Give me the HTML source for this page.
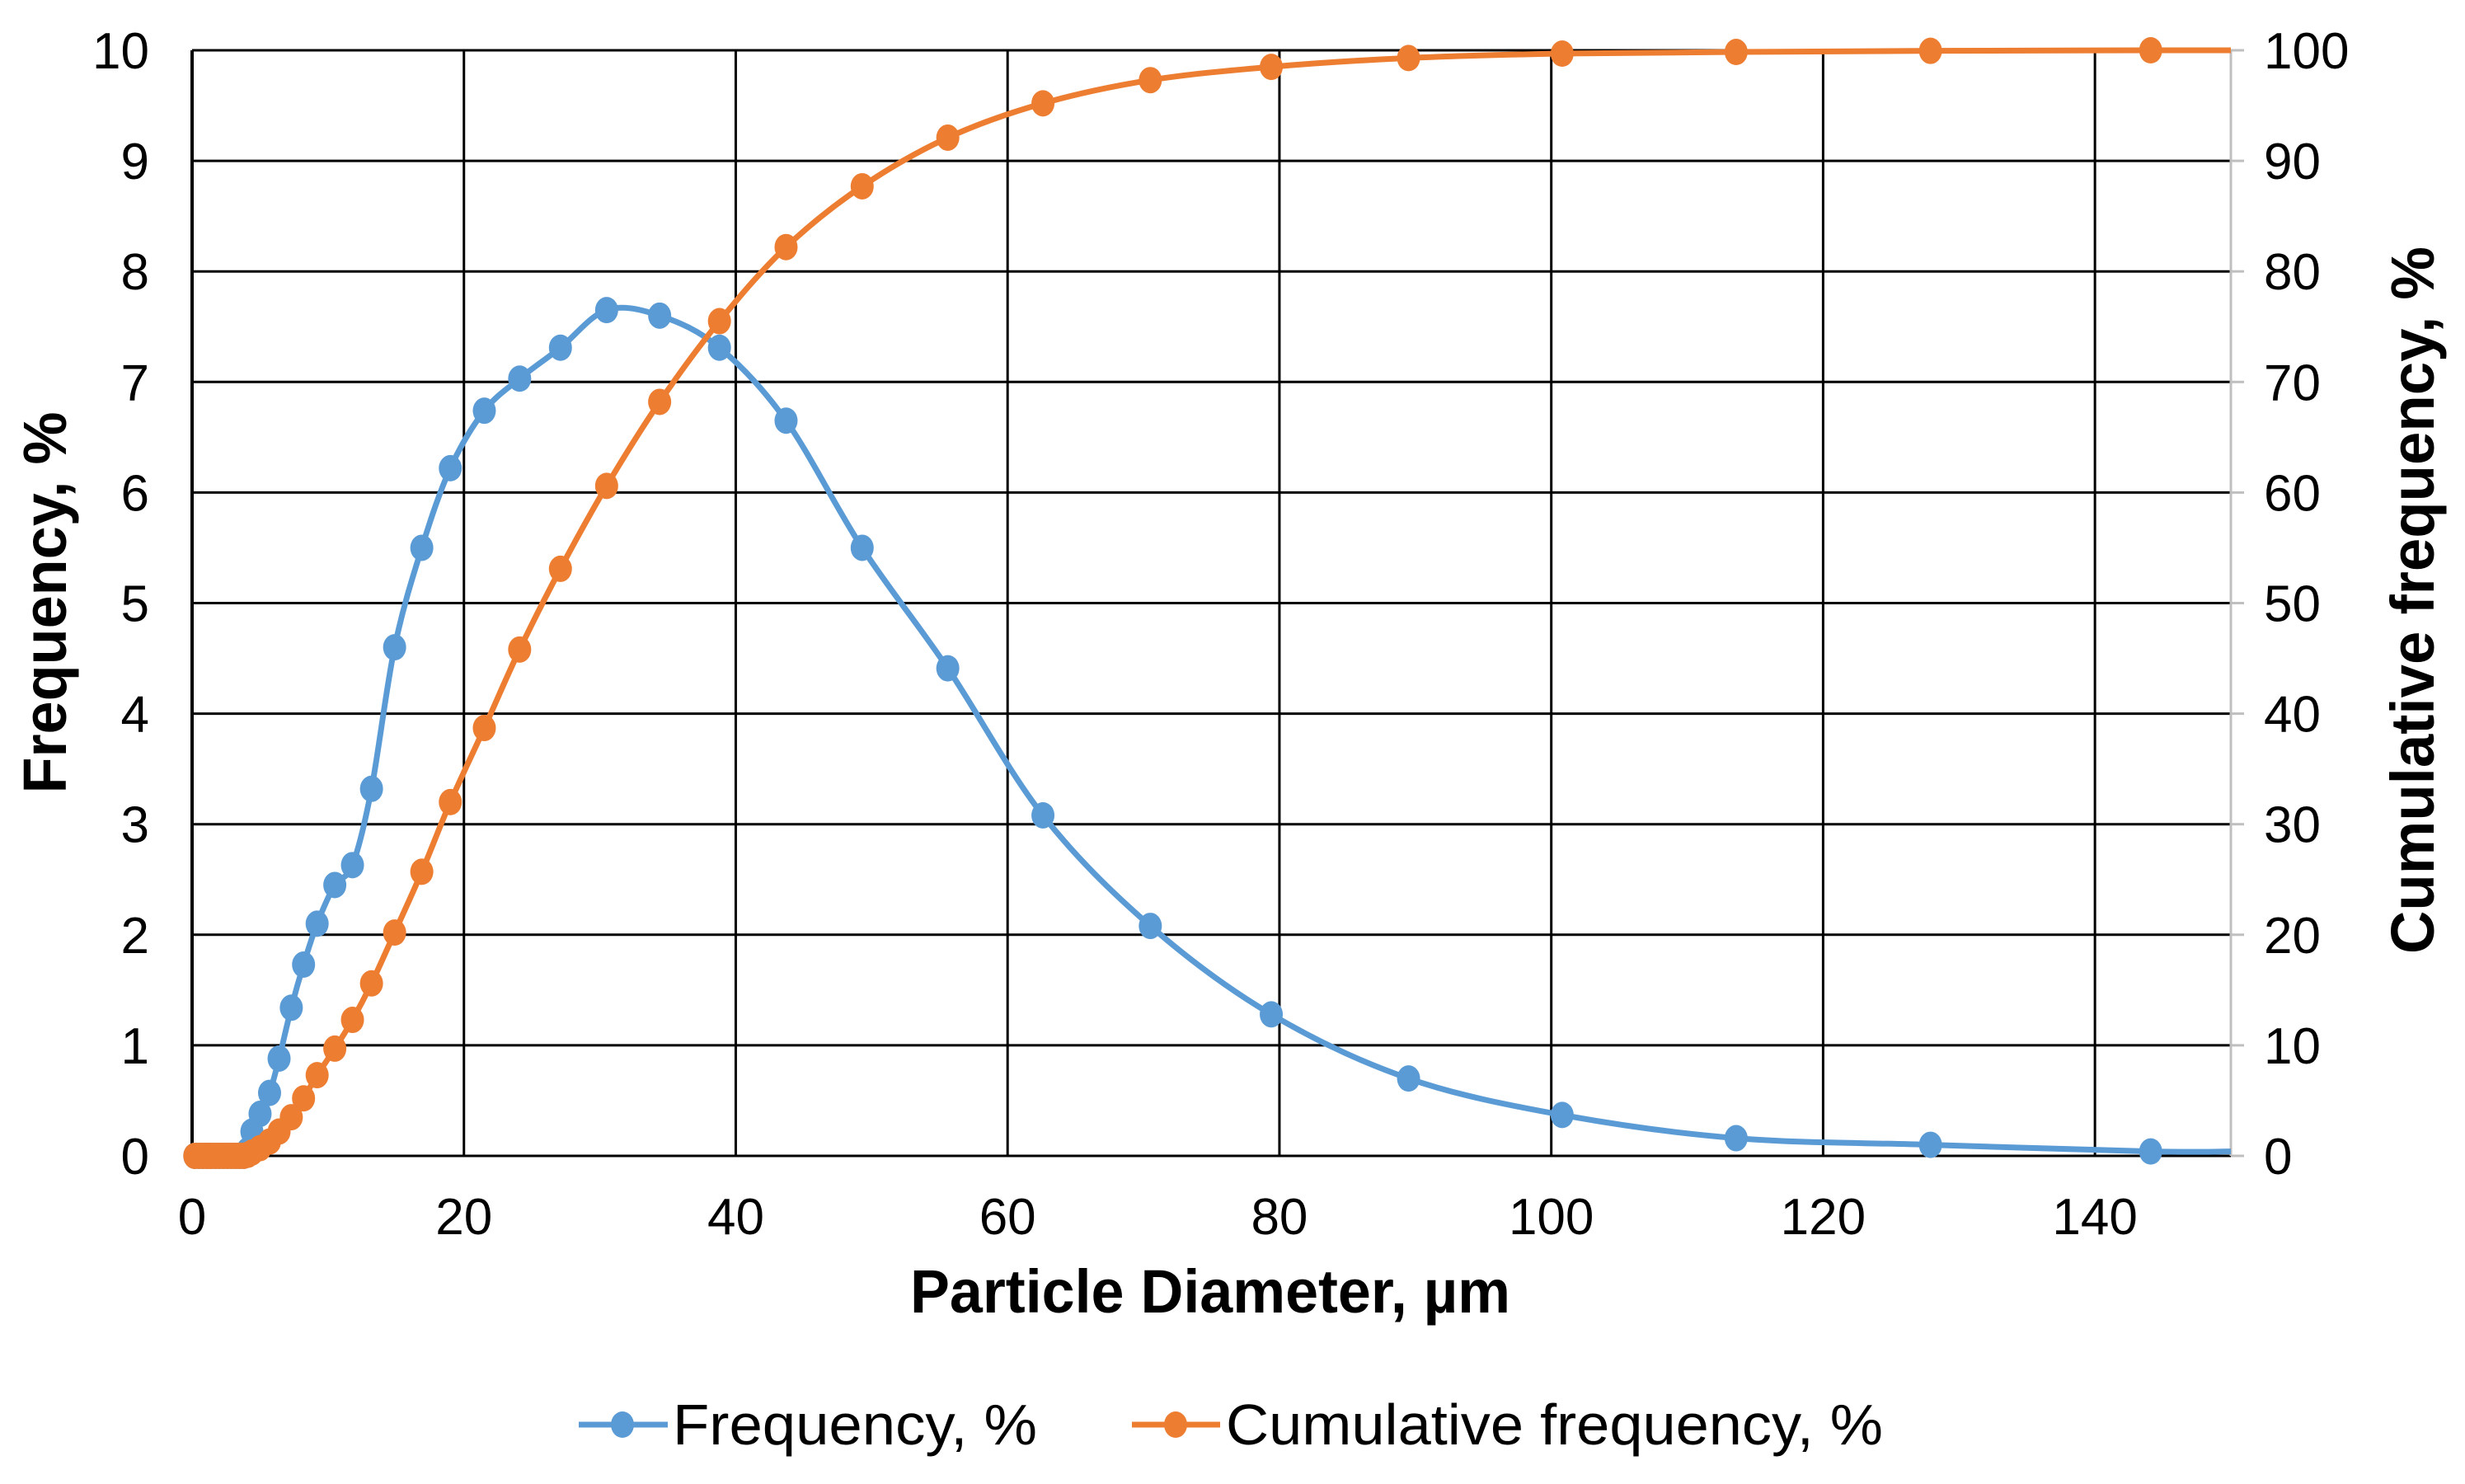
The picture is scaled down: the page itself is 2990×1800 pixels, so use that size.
<!DOCTYPE html>
<html><head><meta charset="utf-8"><style>
html,body{margin:0;padding:0;background:#fff;}
svg{display:block;font-family:"Liberation Sans",Arial,sans-serif;}
</style></head><body>
<svg id="chart" width="2990" height="1800" viewBox="0 0 2990 1800" xmlns="http://www.w3.org/2000/svg">
<g id="grid"></g>
<g id="axes"></g>
<g id="series"></g>
<text x="1468" y="1592" font-size="74" font-weight="bold" text-anchor="middle" textLength="728" lengthAdjust="spacingAndGlyphs">Particle Diameter, µm</text>
<text transform="translate(80,731) rotate(-90)" font-size="74" font-weight="bold" text-anchor="middle" textLength="463" lengthAdjust="spacingAndGlyphs">Frequency, %</text>
<text transform="translate(2952,728) rotate(-90)" font-size="74" font-weight="bold" text-anchor="middle" textLength="858" lengthAdjust="spacingAndGlyphs">Cumulative frequency, %</text>
<g>
 <g>
  <line x1="702" y1="1728" x2="810" y2="1728" stroke="#5B9BD5" stroke-width="7"/>
  <ellipse cx="755" cy="1728" rx="14" ry="16" fill="#5B9BD5"/>
  <text x="816" y="1752" font-size="70" textLength="442" lengthAdjust="spacingAndGlyphs">Frequency, %</text>
 </g>
 <g>
  <line x1="1373" y1="1728" x2="1480" y2="1728" stroke="#ED7D31" stroke-width="7"/>
  <ellipse cx="1426" cy="1728" rx="14" ry="16" fill="#ED7D31"/>
  <text x="1487" y="1752" font-size="70" textLength="797" lengthAdjust="spacingAndGlyphs">Cumulative frequency, %</text>
 </g>
</g>
</svg>
<script>
const diameters = [0.2,0.5,0.8,1.1,1.4,1.7,2.0,2.3,2.6,2.9,3.2,3.5,3.8,4.1,4.4,5.0,5.7,6.4,7.3,8.2,9.2,10.5,11.8,13.2,14.9,16.9,19.0,21.5,24.1,27.1,30.5,34.4,38.8,43.7,49.3,55.6,62.6,70.5,79.4,89.5,100.8,113.6,127.9,144.1];
const frequency = [0,0,0,0,0,0,0,0,0,0,0,0,0,0.05,0.22,0.38,0.57,0.88,1.34,1.73,2.1,2.45,2.63,3.32,4.6,5.5,6.22,6.74,7.03,7.31,7.65,7.6,7.31,6.65,5.5,4.41,3.08,2.08,1.28,0.7,0.37,0.16,0.1,0.04];
const cumulative = [0,0,0,0,0,0,0,0,0,0,0,0,0,0.1,0.3,0.7,1.3,2.2,3.5,5.2,7.3,9.7,12.3,15.6,20.2,25.7,32.0,38.7,45.8,53.1,60.6,68.2,75.5,82.2,87.7,92.1,95.2,97.3,98.5,99.3,99.7,99.85,99.95,100];
const xTicks = [0,20,40,60,80,100,120,140];
const yLeftTicks = [0,1,2,3,4,5,6,7,8,9,10];
const yRightTicks = [0,10,20,30,40,50,60,70,80,90,100];
const xEnd = 150, freqTail = 0.04;

const L=233,R=2706,T=61,B=1402;
const xs=v=>L+(v/150)*(R-L);
const yl=v=>B-(v/10)*(B-T);
const yr=v=>B-(v/100)*(B-T);
const NS='http://www.w3.org/2000/svg';
function mk(tag,attrs,parent){const e=document.createElementNS(NS,tag);for(const k in attrs)e.setAttribute(k,attrs[k]);parent.appendChild(e);return e;}
const grid=document.getElementById('grid'),axes=document.getElementById('axes'),series=document.getElementById('series');

yLeftTicks.forEach((t,i)=>{
  const g=mk('line',{x1:L,x2:R,y1:yl(t),y2:yl(t),stroke:'#000','stroke-width':3},grid);
  
  
  const tk=mk('line',{x1:R,x2:R+16,y1:yl(t),y2:yl(t),stroke:'#bfbfbf','stroke-width':3},axes);
  
  
  const lt=mk('text',{x:181,y:yl(t)+22,'font-size':62,'text-anchor':'end'},axes);
  lt.textContent=t;
  
  
  const rt=mk('text',{x:2746,y:yr(yRightTicks[i])+22,'font-size':62},axes);
  rt.textContent=yRightTicks[i];
  
  
});
xTicks.forEach(t=>{
  if(t>0){const g=mk('line',{x1:xs(t),x2:xs(t),y1:T,y2:B,stroke:'#000','stroke-width':3},grid);
  
  }
  const tx=mk('text',{x:xs(t),y:1497,'font-size':62,'text-anchor':'middle'},axes);
  tx.textContent=t;
  
  
});
const la=mk('line',{x1:L,x2:L,y1:T,y2:B,stroke:'#000','stroke-width':4},axes);


const ra=mk('line',{x1:R,x2:R,y1:T,y2:B,stroke:'#bfbfbf','stroke-width':3},axes);



function smooth(pts){
  let d='M'+pts[0][0]+','+pts[0][1];
  for(let i=0;i<pts.length-1;i++){
    const p0=pts[i-1]||pts[i],p1=pts[i],p2=pts[i+1],p3=pts[i+2]||p2;
    const c1=[p1[0]+(p2[0]-p0[0])/6,p1[1]+(p2[1]-p0[1])/6];
    const c2=[p2[0]-(p3[0]-p1[0])/6,p2[1]-(p3[1]-p1[1])/6];
    d+=' C'+c1[0]+','+c1[1]+' '+c2[0]+','+c2[1]+' '+p2[0]+','+p2[1];
  }
  return d;
}
function drawSeries(vals,yf,color,name,tail){
  const pts=diameters.map((d,i)=>[xs(d),yf(vals[i])]);
  const lp=pts.slice(); lp.push([xs(xEnd),yf(tail)]);
  const p=mk('path',{d:smooth(lp),fill:'none',stroke:color,'stroke-width':7},series);
  
  
  pts.forEach(q=>{
    const c=mk('ellipse',{cx:q[0],cy:q[1],rx:14,ry:16,fill:color},series);
    
    
  });
}
drawSeries(frequency,yl,'#5B9BD5','frequency',freqTail);
drawSeries(cumulative,yr,'#ED7D31','cumulative',cumulative[cumulative.length-1]);
</script>
</body></html>
